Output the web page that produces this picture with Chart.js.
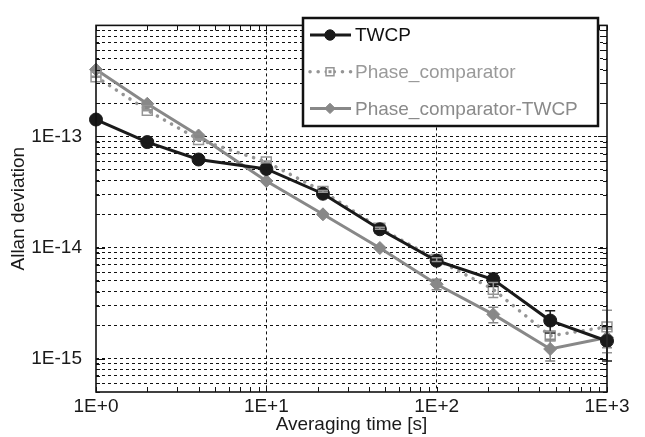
<!DOCTYPE html>
<html><head><meta charset="utf-8">
<script src="https://cdn.jsdelivr.net/npm/chart.js@4.4.1/dist/chart.umd.min.js"></script>
<style>html,body{margin:0;padding:0;background:#fff}#wrap{width:645px;height:437px;position:relative}</style>
</head><body><div id="wrap"><canvas id="c" width="645" height="437"></canvas></div>
<script>
// ---- data ----
const tau = [1, 2, 4, 10, 21.5, 46.4, 100, 215, 464, 1000];
const twcp = [1.42e-13, 8.9e-14, 6.2e-14, 5.1e-14, 3.05e-14, 1.46e-14, 7.6e-15, 5.15e-15, 2.2e-15, 1.44e-15];
const phaseComp = [3.45e-13, 1.72e-13, 9.4e-14, 5.9e-14, 3.2e-14, 1.49e-14, 7.8e-15, 4.2e-15, 1.6e-15, 1.93e-15];
const phaseMinusTwcp = [4.0e-13, 1.97e-13, 1.02e-13, 3.97e-14, 1.99e-14, 9.9e-15, 4.67e-15, 2.5e-15, 1.22e-15, 1.55e-15];
const twcpErr = [2e-15, 1.5e-15, 1e-15, 1e-15, 6e-16, 4e-16, 3e-16, 7e-16, 5e-16, 4.9e-16];
const phaseCompErr = [4e-15, 2e-15, 1e-15, 1e-15, 6e-16, 3e-16, 3e-16, 6.5e-16, 1.5e-16, 8e-16];
const phaseMinusTwcpErr = [3e-15, 1.5e-15, 8e-16, 4e-16, 3e-16, 2e-16, 5e-16, 4e-16, 2.7e-16, 3e-16];
const seriesNames = ['TWCP', 'Phase_comparator', 'Phase_comparator-TWCP'];
const xTickValues = [1, 10, 100, 1000];
const xTickLabels = ['1E+0', '1E+1', '1E+2', '1E+3'];
const yTickValues = [1e-15, 1e-14, 1e-13];
const yTickLabels = ['1E-15', '1E-14', '1E-13'];

const FONT = "'Liberation Sans', Arial, sans-serif";
const sameVal = (a, b) => Math.abs(Math.log10(a) - Math.log10(b)) < 1e-6;
const isDecade = v => Math.abs(Math.log10(v) - Math.round(Math.log10(v))) < 1e-6;
function logTicks(min, max) {
  const t = [];
  for (let e = Math.floor(Math.log10(min)) - 1; e <= Math.ceil(Math.log10(max)); e++) {
    for (let m = 1; m < 10; m++) {
      const v = m * Math.pow(10, e);
      if (v >= min * 0.999 && v <= max * 1.001) t.push({ value: v });
    }
  }
  return t;
}
const pts = arr => tau.map((t, i) => ({ x: t, y: arr[i] }));

const errorBars = {
  id: 'errorBars',
  afterDatasetsDraw(chart) {
    const { ctx, scales: { x, y } } = chart;
    chart.data.datasets.forEach((ds, i) => {
      const err = ds.errors; if (!err) return;
      ctx.save();
      ctx.strokeStyle = ds.borderColor; ctx.lineWidth = 1.5; ctx.setLineDash([]);
      ds.data.forEach((p, j) => {
        const px = x.getPixelForValue(p.x);
        const t = y.getPixelForValue(p.y + err[j]);
        const b = y.getPixelForValue(Math.max(p.y - err[j], 1e-20));
        ctx.beginPath();
        ctx.moveTo(px, t); ctx.lineTo(px, b);
        ctx.moveTo(px - 5, t); ctx.lineTo(px + 5, t);
        ctx.moveTo(px - 5, b); ctx.lineTo(px + 5, b);
        ctx.stroke();
      });
      ctx.restore();
    });
  }
};

const frameAndLegend = {
  id: 'frameAndLegend',
  afterDraw(chart) {
    const { ctx, chartArea: a, scales: { x, y } } = chart;
    ctx.save();
    ctx.setLineDash([]);
    ctx.strokeStyle = '#111'; ctx.lineWidth = 1;
    // inward tick marks
    x.ticks.forEach(t => {
      const px = Math.round(x.getPixelForValue(t.value)) + 0.5;
      ctx.beginPath();
      ctx.moveTo(px, a.bottom); ctx.lineTo(px, a.bottom - 5);
      ctx.moveTo(px, a.top); ctx.lineTo(px, a.top + 5);
      ctx.stroke();
    });
    y.ticks.forEach(t => {
      const py = Math.round(y.getPixelForValue(t.value)) + 0.5;
      const len = isDecade(t.value) ? 9 : 4;
      ctx.beginPath();
      ctx.moveTo(a.left, py); ctx.lineTo(a.left + len, py);
      ctx.moveTo(a.right, py); ctx.lineTo(a.right - len, py);
      ctx.stroke();
    });
    ctx.lineWidth = 1.6;
    ctx.strokeRect(a.left, a.top, a.right - a.left, a.bottom - a.top);

    // legend box
    const L = 303, T = 18, R = 598, B = 126;
    ctx.fillStyle = '#fff';
    ctx.fillRect(L, T, R - L, B - T);
    ctx.lineWidth = 2.5; ctx.strokeStyle = '#111';
    ctx.strokeRect(L, T, R - L, B - T);
    chart.data.datasets.forEach((ds, i) => {
      const cy = 35 + i * 36.7;
      ctx.save();
      ctx.strokeStyle = ds.borderColor;
      ctx.lineWidth = ds.borderWidth;
      ctx.lineCap = ds.borderCapStyle || 'butt';
      ctx.setLineDash(ds.borderDash || []);
      ctx.beginPath(); ctx.moveTo(310, cy); ctx.lineTo(351, cy); ctx.stroke();
      ctx.setLineDash([]);
      ctx.lineCap = 'butt';
      ctx.fillStyle = ds.pointStyle === 'rect' ? '#fff' : ds.pointBackgroundColor;
      ctx.strokeStyle = ds.pointBorderColor;
      ctx.lineWidth = ds.pointBorderWidth;
      Chart.helpers.drawPoint(ctx, {
        pointStyle: ds.pointStyle, rotation: 0, radius: ds.pointRadius * 0.8,
        borderWidth: ds.pointBorderWidth
      }, 330, cy);
      if (ds.pointStyle === 'rect') { ctx.fillStyle = ds.borderColor; ctx.fillRect(328.5, cy - 1.5, 3, 3); }
      ctx.restore();
      ctx.save();
      ctx.fillStyle = ds.legendTextColor;
      ctx.font = '19px ' + FONT;
      ctx.textBaseline = 'middle';
      ctx.fillText(ds.label, 355, cy + 1);
      ctx.restore();
    });
    ctx.restore();
  }
};

const helperStyle = (ds) => {
  ds.pointBackgroundColor = ds.pointBackgroundColor ?? ds.backgroundColor;
  ds.pointBorderColor = ds.pointBorderColor ?? ds.borderColor;
  return ds;
};

const datasets = [
  helperStyle({
    label: seriesNames[0], data: pts(twcp), errors: twcpErr,
    borderColor: '#1a1a1a', backgroundColor: '#1a1a1a', legendTextColor: '#111',
    borderWidth: 3, pointStyle: 'circle', pointRadius: 6.5, pointBorderWidth: 1,
    clip: false
  }),
  helperStyle({
    label: seriesNames[1], data: pts(phaseComp), errors: phaseCompErr,
    borderColor: '#959595', backgroundColor: 'rgba(0,0,0,0)', legendTextColor: '#9a9a9a',
    borderWidth: 3.5, borderDash: [0.1, 8], borderCapStyle: 'round',
    pointStyle: 'rect', pointRadius: 7, pointBorderWidth: 1.5,
    clip: false
  }),
  helperStyle({
    label: seriesNames[2], data: pts(phaseMinusTwcp), errors: phaseMinusTwcpErr,
    borderColor: '#888888', backgroundColor: '#888888', legendTextColor: '#8a8a8a',
    borderWidth: 3, pointStyle: 'rectRot', pointRadius: 6.5, pointBorderWidth: 1,
    clip: false
  })
];

new Chart(document.getElementById('c'), {
  type: 'line',
  data: { datasets },
  options: {
    responsive: false, animation: false, devicePixelRatio: 1,
    layout: { padding: { left: 0, right: 38, top: 8, bottom: 0 } },
    plugins: { legend: { display: false }, tooltip: { enabled: false } },
    elements: { line: { tension: 0 } },
    scales: {
      x: {
        type: 'logarithmic', min: 1, max: 1000,
        afterBuildTicks: s => { s.ticks = logTicks(1, 1000); },
        afterFit: s => { s.height = 45; },
        grid: {
          color: c => (c.tick && isDecade(c.tick.value) && c.tick.value > 1 && c.tick.value < 1000) ? '#111' : 'rgba(0,0,0,0)',
          lineWidth: 1, drawTicks: false
        },
        border: { display: false, dash: [3, 3] },
        ticks: {
          autoSkip: false, maxRotation: 0, minRotation: 0, padding: 3,
          color: '#1a1a1a', font: { family: FONT, size: 19 },
          callback: v => { const i = xTickValues.findIndex(t => sameVal(t, v)); return i >= 0 ? xTickLabels[i] : ''; }
        },
        title: { display: true, text: 'Averaging time [s]', color: '#1a1a1a', font: { family: FONT, size: 19 }, padding: { top: 0, bottom: 1 } }
      },
      y: {
        type: 'logarithmic', min: 5e-16, max: 1e-12,
        afterBuildTicks: s => { s.ticks = logTicks(5e-16, 1e-12); },
        afterFit: s => { s.width = 96; },
        grid: {
          color: c => (c.tick && c.tick.value > 5.01e-16 && c.tick.value < 0.99e-12) ? '#111' : 'rgba(0,0,0,0)',
          lineWidth: 1, drawTicks: false
        },
        border: { display: false, dash: [3, 3] },
        ticks: {
          autoSkip: false, padding: 14,
          color: '#1a1a1a', font: { family: FONT, size: 19 },
          callback: v => { const i = yTickValues.findIndex(t => sameVal(t, v)); return i >= 0 ? yTickLabels[i] : ''; }
        },
        title: { display: true, text: 'Allan deviation', color: '#1a1a1a', font: { family: FONT, size: 19 }, padding: { top: 7, bottom: 0 } }
      }
    }
  },
  plugins: [errorBars, frameAndLegend]
});
</script></body></html>
